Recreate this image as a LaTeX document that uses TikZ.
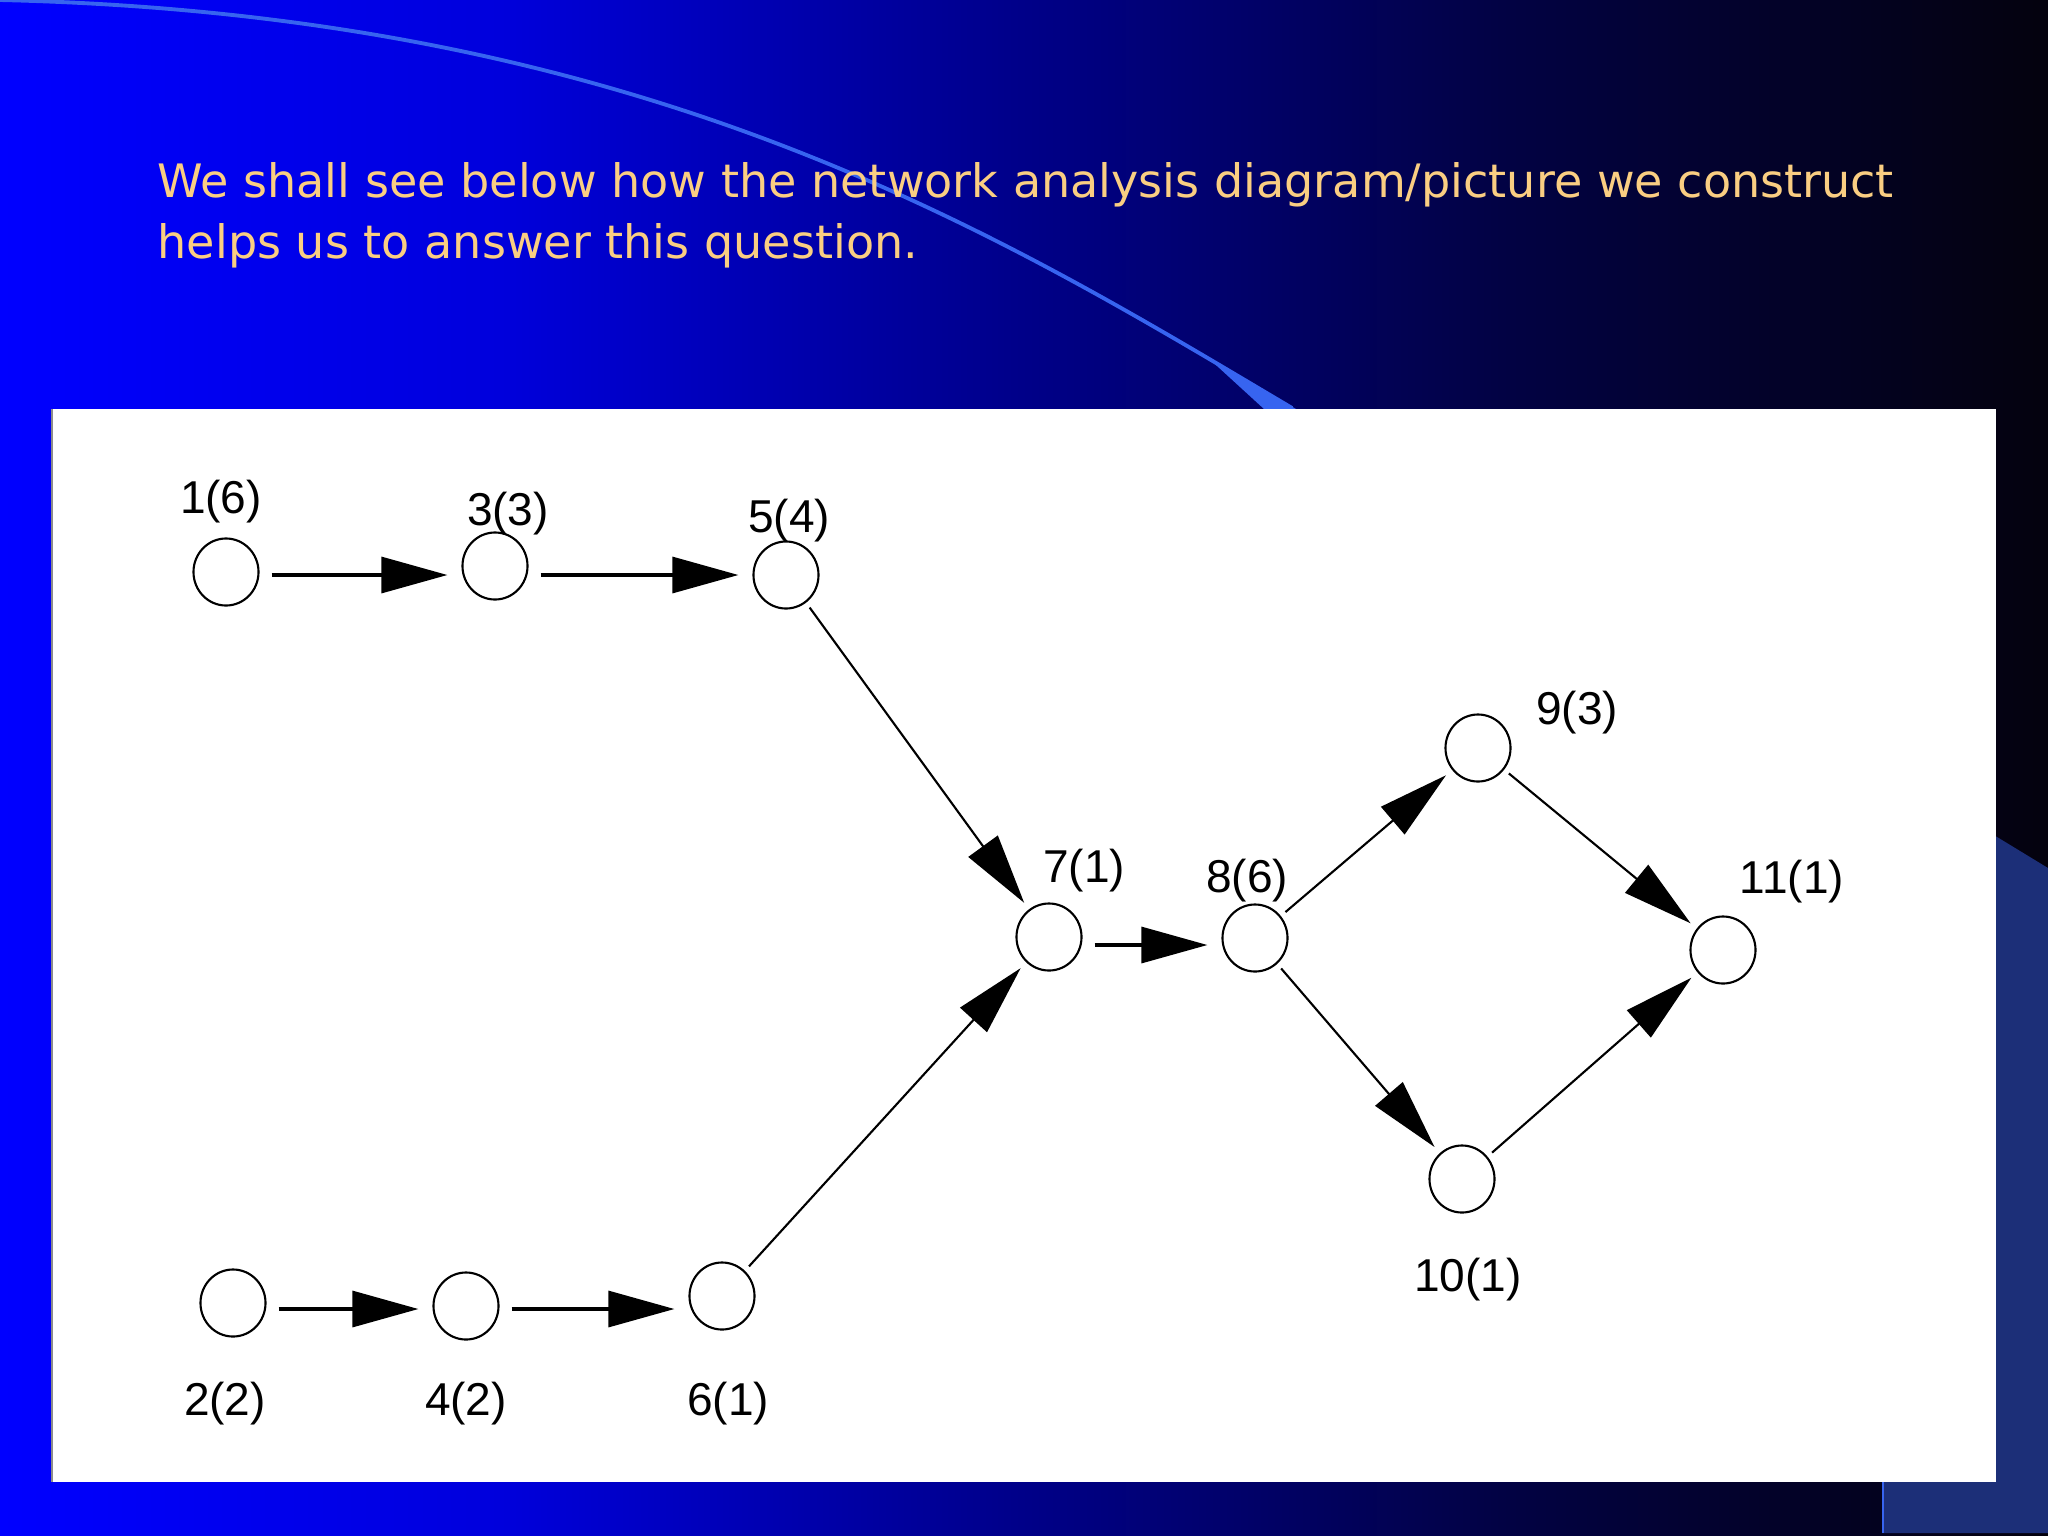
\documentclass[tikz,border=0pt]{standalone}
\usepackage{fontspec}
\setmainfont{DejaVu Sans}
\newfontfamily\labfont{Liberation Sans}
\usetikzlibrary{shapes.geometric,arrows.meta}
\definecolor{titlecol}{RGB}{250,206,130}
\definecolor{panelblue}{RGB}{28,47,120}
\definecolor{arcblue}{RGB}{55,100,240}
\definecolor{bgA}{RGB}{0,0,255}
\definecolor{bgB}{RGB}{0,0,220}
\definecolor{bgC}{RGB}{0,0,140}
\definecolor{bgD}{RGB}{2,2,68}
\definecolor{bgE}{RGB}{4,2,14}
\tikzset{
  evt/.style={draw, shape=ellipse, line width=0.6pt, inner sep=0pt,
    minimum width=0.65cm, minimum height=0.67cm},
  lab/.style={font=\labfont\fontsize{13.1pt}{14pt}\selectfont, inner sep=0pt, anchor=base},
  harr/.style={line width=0.9pt, -{Triangle[length=0.66cm,width=0.36cm]},
    shorten <=0.12cm, shorten >=0.14cm},
  darr/.style={line width=0.6pt, -{Triangle[length=0.7cm,width=0.36cm]},
    shorten <=0.06cm, shorten >=0.08cm},
  ttl/.style={font=\fontsize{13.1pt}{16pt}\selectfont, text=titlecol, inner sep=0pt, anchor=base west}
}
\begin{document}
\begin{tikzpicture}[x=0.01cm, y=-0.01cm]
\useasboundingbox (0,0) rectangle (2048,1536);
% background gradient
\shade[left color=bgA, right color=bgB] (0,0) rectangle (501,1536);
\shade[left color=bgB, right color=bgC] (500,0) rectangle (1001,1536);
\shade[left color=bgC, right color=bgD] (1000,0) rectangle (1501,1536);
\shade[left color=bgD, right color=bgE] (1500,0) rectangle (2048,1536);
% decorative arc
\draw[arcblue, line width=1.1pt] (0,0) .. controls (650,15) and (1000,235) .. (1292,408);
\fill[arcblue] (1205,355) -- (1296,409) -- (1264,409) -- cycle;
% right panel
\fill[panelblue] (1882,767) -- (2048,868) -- (2048,1533) -- (1882,1533) -- cycle;
\draw[arcblue, line width=0.8pt] (1883,1470) -- (1883,1533);
% white diagram area
\fill[white] (52,409) rectangle (1996,1482);
\draw[black!45, line width=0.4pt] (52,409) -- (52,1482);
% title
\node[ttl] (t1) at (157,197) {We shall see below how the network analysis diagram/picture we construct};
\node[ttl] (t2) at (157,258) {helps us to answer this question.};
% events
\node[evt] (n1) at (226,572) {};
\node[evt] (n3) at (495,566) {};
\node[evt] (n5) at (786,575) {};
\node[evt] (n7) at (1049,937) {};
\node[evt] (n8) at (1255,938) {};
\node[evt] (n9) at (1478,748) {};
\node[evt] (n10) at (1462,1179) {};
\node[evt] (n11) at (1723,950) {};
\node[evt] (n2) at (233,1303) {};
\node[evt] (n4) at (466,1306) {};
\node[evt] (n6) at (722,1296) {};
% labels
\node[lab] (l1) at (221,513) {1(6)};
\node[lab] (l3) at (508,525) {3(3)};
\node[lab] (l5) at (789,532) {5(4)};
\node[lab] (l7) at (1084,882) {7(1)};
\node[lab] (l8) at (1247,892) {8(6)};
\node[lab] (l9) at (1577,724) {9(3)};
\node[lab] (l11) at (1792,893) {11(1)};
\node[lab] (l10) at (1468,1291) {10(1)};
\node[lab] (l2) at (225,1415) {2(2)};
\node[lab] (l4) at (466,1415) {4(2)};
\node[lab] (l6) at (728,1415) {6(1)};
% activities
\draw[harr] (n1.east |- 0,575) -- (n3.west |- 0,575);
\draw[harr] (n3.east |- 0,575) -- (n5.west |- 0,575);
\draw[harr] (n2.east |- 0,1309) -- (n4.west |- 0,1309);
\draw[harr] (n4.east |- 0,1309) -- (n6.west |- 0,1309);
\draw[harr] (n7.east |- 0,945) -- (n8.west |- 0,945);
\draw[darr] (n5) -- (n7);
\draw[darr] (n6) -- (n7);
\draw[darr] (n8) -- (n9);
\draw[darr] (n8) -- (n10);
\draw[darr] (n9) -- (n11);
\draw[darr] (n10) -- (n11);
\end{tikzpicture}
\end{document}
